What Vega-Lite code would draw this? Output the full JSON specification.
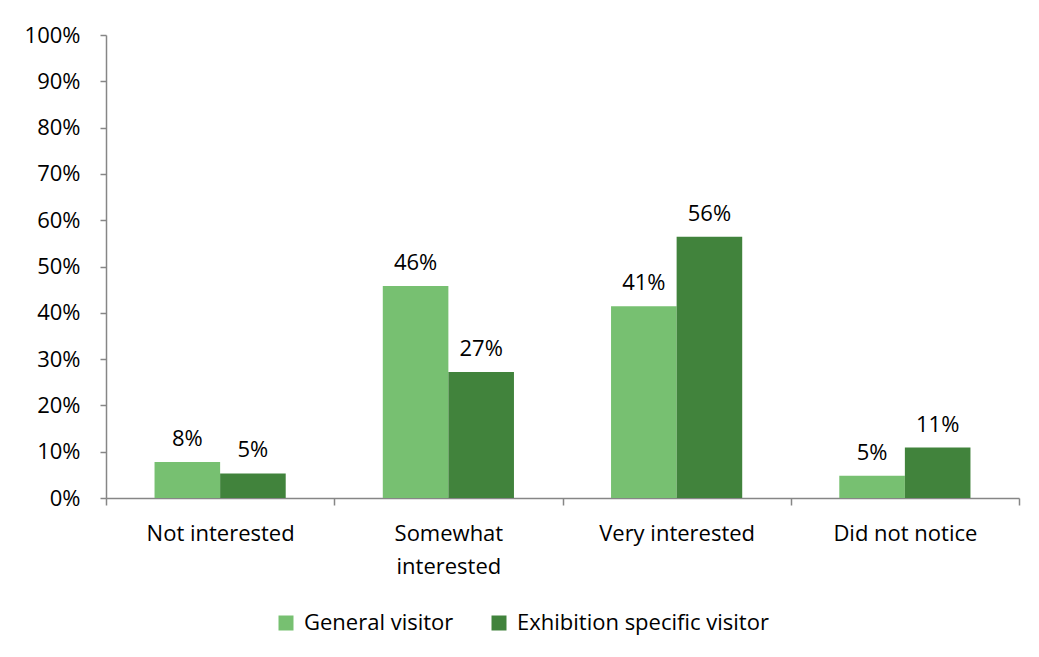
{
  "$schema": "https://vega.github.io/schema/vega-lite/v6.json",
  "width": 913,
  "height": 463,
  "autosize": {"type": "none"},
  "padding": {"left": 106, "top": 35, "right": 20, "bottom": 159},
  "background": "white",
  "config": {
    "view": {"stroke": null},
    "font": "Open Sans",
    "axis": {"labelFont": "Open Sans", "labelFontSize": 22, "labelColor": "#000000", "domainColor": "#868686", "tickColor": "#868686", "grid": false, "title": null, "labelLimit": 0},
    "legend": {"labelFont": "Open Sans", "labelFontSize": 22, "labelColor": "#000000", "labelLimit": 0}
  },
  "data": {
    "values": [
      {"category": "Not interested", "group": "General visitor", "value": 0.078},
      {"category": "Not interested", "group": "Exhibition specific visitor", "value": 0.053},
      {"category": "Somewhat interested", "group": "General visitor", "value": 0.458},
      {"category": "Somewhat interested", "group": "Exhibition specific visitor", "value": 0.272},
      {"category": "Very interested", "group": "General visitor", "value": 0.414},
      {"category": "Very interested", "group": "Exhibition specific visitor", "value": 0.564},
      {"category": "Did not notice", "group": "General visitor", "value": 0.048},
      {"category": "Did not notice", "group": "Exhibition specific visitor", "value": 0.109}
    ]
  },
  "encoding": {
    "x": {
      "field": "category", "type": "nominal", "sort": null,
      "scale": {"paddingInner": 0, "paddingOuter": 0},
      "axis": {"labelAngle": 0, "tickBand": "extent", "tickSize": 7, "labelPadding": 18, "domainWidth": 1.5, "tickWidth": 1.5,
               "labelExpr": "datum.label == 'Somewhat interested' ? ['Somewhat', 'interested'] : datum.label", "labelLineHeight": 33, "labelBaseline": "top"}
    },
    "xOffset": {"field": "group", "type": "nominal", "sort": ["General visitor", "Exhibition specific visitor"], "scale": {"paddingInner": 0, "paddingOuter": 0.74}},
    "y": {
      "field": "value", "type": "quantitative",
      "scale": {"domain": [0, 1], "nice": false},
      "axis": {"format": ".0%", "values": [0, 0.1, 0.2, 0.3, 0.4, 0.5, 0.6, 0.7, 0.8, 0.9, 1.0], "tickSize": 6, "labelPadding": 20, "domainWidth": 1.5, "tickWidth": 1.5}
    }
  },
  "layer": [
    {
      "mark": {"type": "bar"},
      "encoding": {
        "color": {
          "field": "group", "type": "nominal", "sort": ["General visitor", "Exhibition specific visitor"],
          "scale": {"domain": ["General visitor", "Exhibition specific visitor"], "range": ["#77C071", "#41833C"]},
          "legend": {"title": null, "orient": "none", "direction": "horizontal", "legendX": 169, "legendY": 577, "symbolType": "square", "symbolSize": 225, "symbolStrokeWidth": 0, "symbolOpacity": 1, "columnPadding": 34, "labelOffset": 7}
        }
      }
    },
    {
      "mark": {"type": "text", "baseline": "bottom", "dy": -11, "fontSize": 22, "font": "Open Sans", "color": "#000000"},
      "encoding": {
        "text": {"field": "value", "type": "quantitative", "format": ".0%"}
      }
    }
  ]
}
